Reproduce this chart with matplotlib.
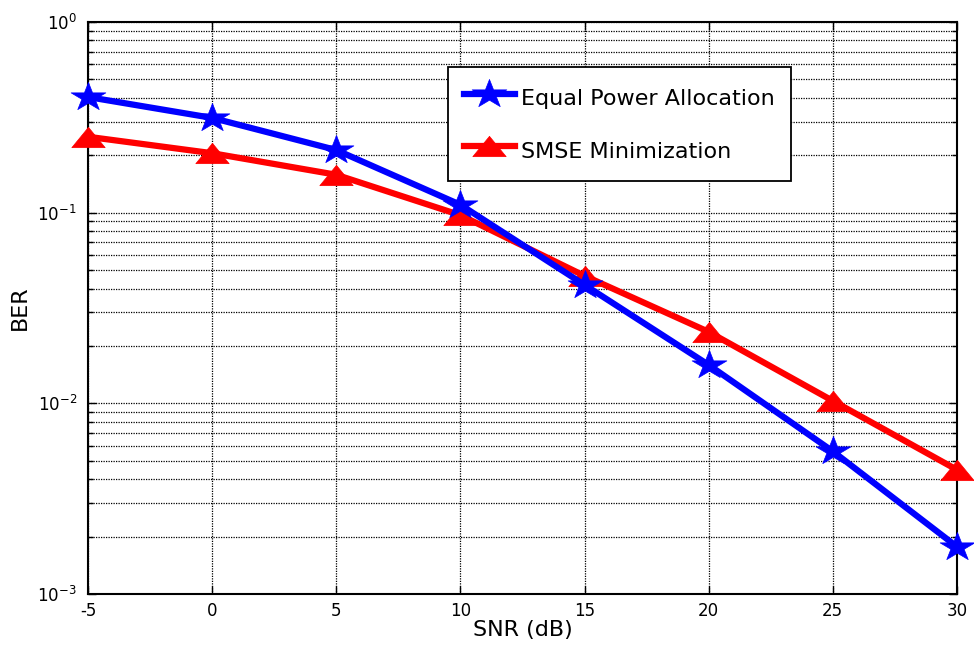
import matplotlib
matplotlib.use("Agg")
import numpy as np
import matplotlib.pyplot as plt
from matplotlib.ticker import LogLocator, NullFormatter

plt.rcParams['font.family'] = ['DejaVu Sans']
plt.rcParams['mathtext.fontset'] = 'dejavusans'

snr = [-5, 0, 5, 10, 15, 20, 25, 30]
ber_equal = [0.404, 0.314, 0.213, 0.110, 0.0418, 0.0159, 0.0056, 0.00177]
ber_smse = [0.250, 0.205, 0.158, 0.097, 0.0466, 0.0237, 0.0103, 0.00448]
label_equal = "Equal Power Allocation"
label_smse = "SMSE Minimization"
x_ticks = [-5, 0, 5, 10, 15, 20, 25, 30]
y_exps = [-3, -2, -1, 0]

# marker shapes (slightly wide, like the reference rendering)
ang = np.deg2rad(90 + 36 * np.arange(10))
rad = np.where(np.arange(10) % 2 == 0, 1.0, 0.381966)
star_verts = list(zip(1.22 * rad * np.cos(ang), rad * np.sin(ang)))
star_verts.append(star_verts[0])
tri_verts = [(0, 0.61), (-1, -0.61), (1, -0.61), (0, 0.61)]

fig = plt.figure(figsize=(9.74, 6.5), dpi=100)
ax = fig.add_axes([0.0903, 0.0862, 0.8922, 0.88])

ax.semilogy(snr, ber_equal, color='#0000ff', lw=4.5, marker=star_verts, ms=25,
            mec='#0000ff', mfc='#0000ff', mew=0.5, label=label_equal,
            zorder=4, clip_on=False)
ax.semilogy(snr, ber_smse, color='#ff0000', lw=4.5, marker=tri_verts, ms=24,
            mec='#ff0000', mfc='#ff0000', mew=0.5, label=label_smse,
            zorder=3, clip_on=False)

ax.set_xlim(-5, 30)
ax.set_ylim(1e-3, 1)
ax.set_xticks(x_ticks)
ax.set_xticklabels([str(v) for v in x_ticks])
ax.set_yticks([10.0**e for e in y_exps])
ax.set_yticklabels([r'$10^{%d}$' % e for e in y_exps])
ax.yaxis.set_minor_locator(LogLocator(base=10, subs=range(2, 10)))
ax.yaxis.set_minor_formatter(NullFormatter())

ax.grid(True, which='major', color='black', linestyle=(0, (1, 1)), linewidth=0.9)
ax.grid(True, which='minor', axis='y', color='black', linestyle=(0, (1, 1)), linewidth=0.9)

ax.tick_params(which='both', direction='in', top=True, right=True, labelsize=12,
               width=1, colors='black')
ax.tick_params(which='major', length=6)
ax.tick_params(which='minor', length=3.5)
ax.tick_params(axis='x', pad=5.5)
ax.tick_params(axis='y', pad=8)
for s in ax.spines.values():
    s.set_linewidth(1.5)

ax.set_xlabel('SNR (dB)', fontsize=16, labelpad=0)
ax.set_ylabel('BER', fontsize=16, labelpad=5)

leg = ax.legend(loc='upper left', bbox_to_anchor=(0.414, 0.921), borderaxespad=0,
                fontsize=16, frameon=True, fancybox=False, edgecolor='black',
                framealpha=1, handlelength=2.3, handleheight=1.7, borderpad=0.72,
                labelspacing=1.0, handletextpad=0.3)
leg.get_frame().set_linewidth(1.3)

fig.savefig('out.png', dpi=100)
